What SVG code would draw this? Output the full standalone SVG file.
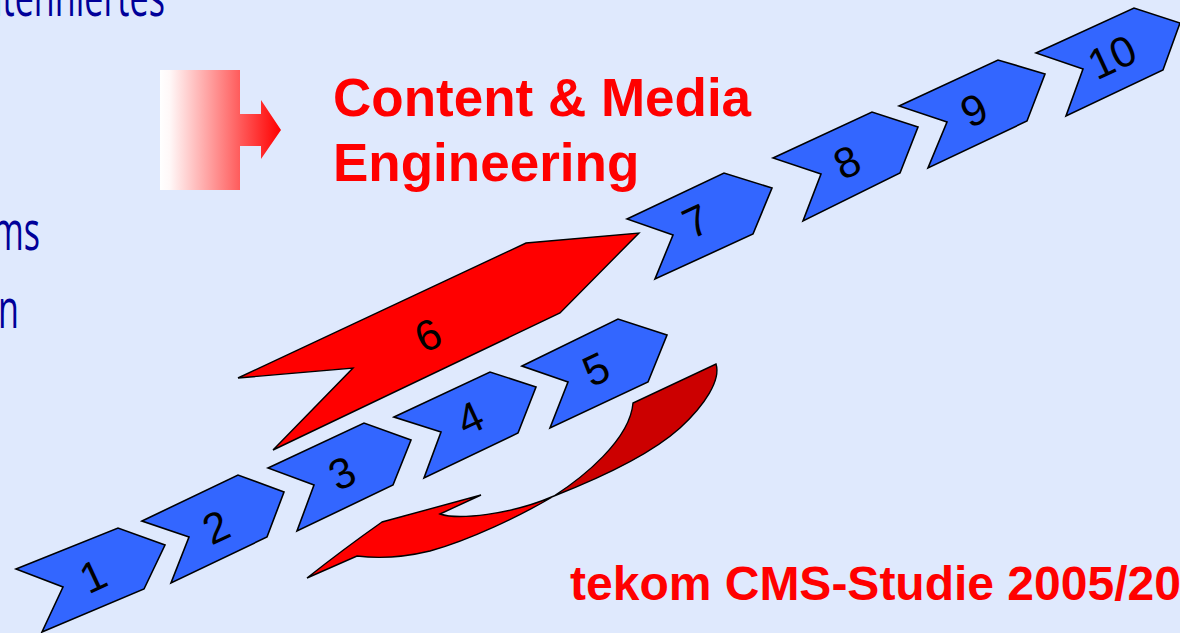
<svg xmlns="http://www.w3.org/2000/svg" width="1180" height="633" viewBox="0 0 1180 633">
<defs>
<linearGradient id="gr" x1="160" y1="0" x2="281" y2="0" gradientUnits="userSpaceOnUse">
<stop offset="0" stop-color="#FFFFFF"/>
<stop offset="0.08" stop-color="#FFF8F8"/>
<stop offset="1" stop-color="#FF0000"/>
</linearGradient>
<style>
.chev{fill:#3366FF;stroke:#000;stroke-width:1.6;stroke-linejoin:miter}
.red{fill:#FF0000;stroke:#000;stroke-width:1.4}
.dred{fill:#CC0000;stroke:#000;stroke-width:1.4}
.num{font-family:"Liberation Sans",Arial,sans-serif;font-size:43px;fill:#000;text-anchor:middle}
.side{font-family:"Open Sans","Noto Sans",sans-serif;font-size:55px;fill:#000099;text-anchor:end}
.title{font-family:"Liberation Sans",Arial,sans-serif;font-weight:bold;fill:#FF0000}
</style>
</defs>
<rect x="0" y="0" width="1180" height="633" fill="#DFE9FD"/>

<g id="side-text">
<text class="side" transform="scale(0.62,1)" x="266" y="16">itenniertes</text>
<text class="side" transform="scale(0.62,1)" x="64.5" y="250">ms</text>
<text class="side" transform="scale(0.62,1)" x="30.6" y="328">n</text>
</g>

<g id="gradient-arrow">
<polygon points="160,70 240,70 240,114 261,114 261,100 281,130 261,159 261,146 240,146 240,190 160,190" fill="url(#gr)"/>
</g>

<g id="title">
<text class="title" x="333" y="116" font-size="53">Content &amp; Media</text>
<text class="title" x="333" y="181" font-size="53">Engineering</text>
</g>

<g id="return-arrow">
<path class="red" d="M307,578 Q345,548 382,522 L481,495 L440,514 C458,520 510,515 554,496 C520,516 470,540 430,551 C405,557 380,559 357,556 Z"/>
<path class="dred" d="M554,496 C582,478 630,440 633,403 L716,364 C721,380 705,405 680,428 C650,455 600,478 554,496 Z"/>
</g>

<g id="step6">
<polygon class="red" points="238,378 526,243 639,233 560,313 273,450 353,368"/>
<text class="num" transform="translate(428,335) rotate(-25)" y="15">6</text>
</g>

<g id="step1">
<polygon class="chev" points="16,569 118,528 165,545 144,589 42,632 63,587"/>
<text class="num" transform="translate(93,576) rotate(-25)" y="15">1</text>
</g>
<g id="step2">
<polygon class="chev" points="142,521 238,475 284,492 267,537 171,583 189,537"/>
<text class="num" transform="translate(216,527) rotate(-25)" y="15">2</text>
</g>
<g id="step3">
<polygon class="chev" points="268,468 364,423 411,440 393,485 297,531 314,485"/>
<text class="num" transform="translate(342,473) rotate(-25)" y="15">3</text>
</g>
<g id="step4">
<polygon class="chev" points="394,417 490,372 536,387 518,433 424,478 441,432"/>
<text class="num" transform="translate(470,418) rotate(-25)" y="15">4</text>
</g>
<g id="step5">
<polygon class="chev" points="522,366 618,319 667,335 648,382 550,428 568,382"/>
<text class="num" transform="translate(596,369) rotate(-25)" y="15">5</text>
</g>
<g id="step7">
<polygon class="chev" points="627,219 724,173 772,188 753,234 655,279 673,235"/>
<text class="num" transform="translate(696,221) rotate(-25)" y="15">7</text>
</g>
<g id="step8">
<polygon class="chev" points="773,158 872,112 918,127 900,173 803,221 821,174"/>
<text class="num" transform="translate(847,162) rotate(-25)" y="15">8</text>
</g>
<g id="step9">
<polygon class="chev" points="899,106 998,60 1045,74 1027,121 928,168 947,122"/>
<text class="num" transform="translate(974,110) rotate(-25)" y="15">9</text>
</g>
<g id="step10">
<polygon class="chev" points="1036,53 1134,8 1180,23 1163,70 1066,116 1083,69"/>
<text class="num" transform="translate(1112,57) rotate(-25)" y="15">10</text>
</g>

<g id="footer">
<text class="title" x="570" y="600" font-size="48">tekom CMS-Studie 2005/20</text>
</g>
</svg>
